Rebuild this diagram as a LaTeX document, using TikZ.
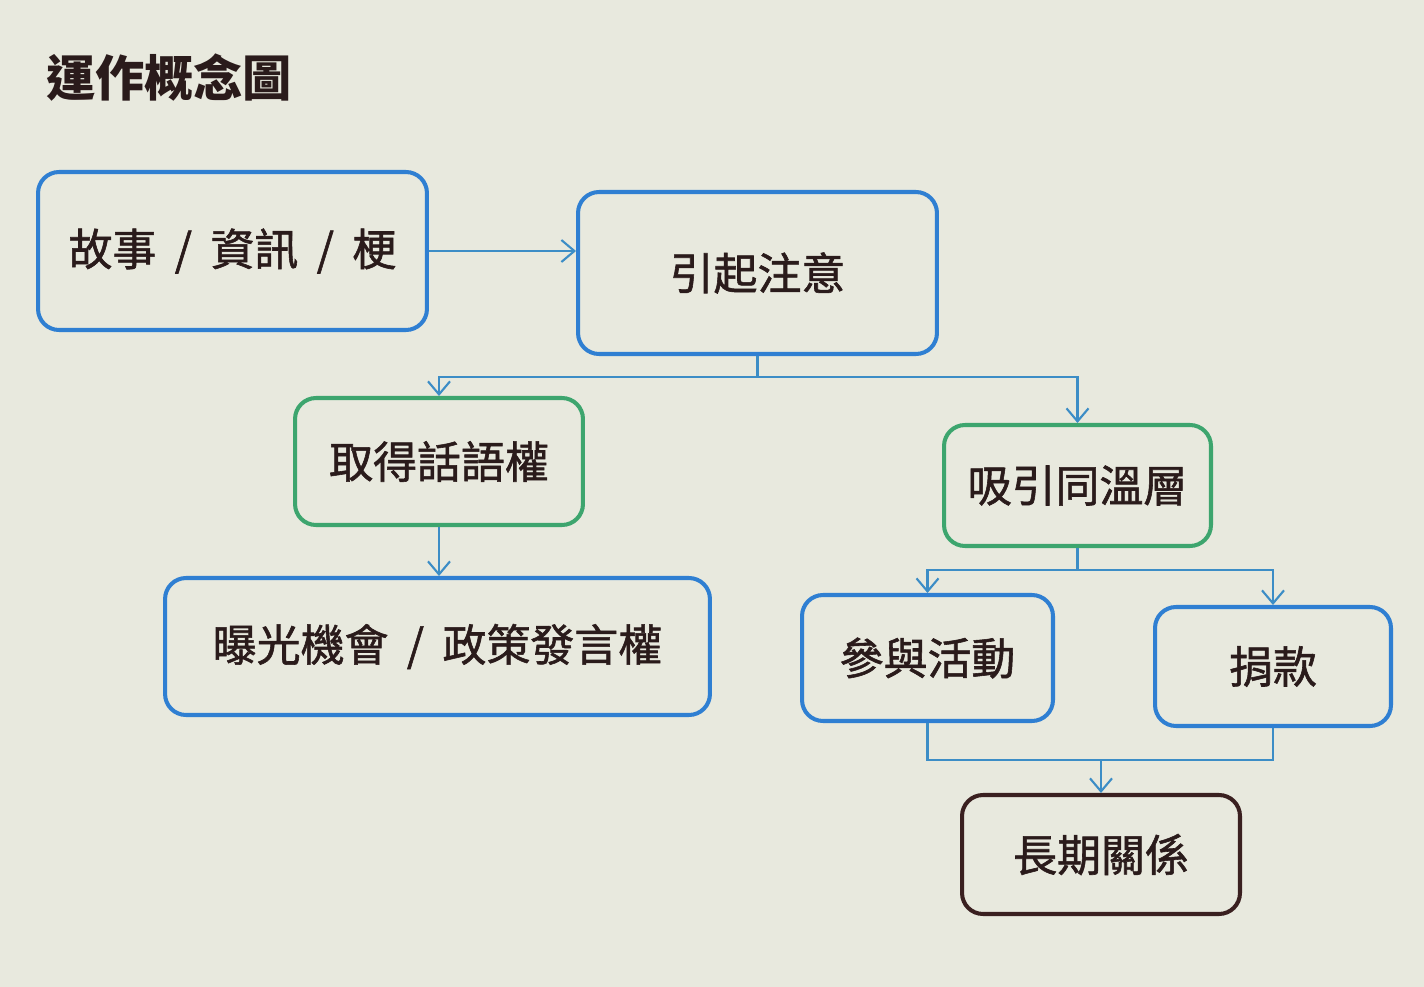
\documentclass[tikz,border=0pt]{standalone}
\usepackage{fontspec}
\newfontfamily\cjk{Noto Sans CJK TC}
\newfontfamily\cjkm[FakeBold=1.3]{Noto Sans CJK TC}
\usetikzlibrary{arrows.meta,calc}
\definecolor{bgc}{HTML}{E8E9DE}
\definecolor{boxblue}{HTML}{2F7FD2}
\definecolor{boxgreen}{HTML}{3DA56E}
\definecolor{boxdark}{HTML}{3A2020}
\definecolor{linkblue}{HTML}{3C8DC6}
\definecolor{txt}{HTML}{2A1B1B}
\newcommand{\myslash}{\hspace{0.42em}/\hspace{0.42em}}
\tikzset{
  box/.style={rounded corners=0.42cm, line width=2.3pt, fill=none, align=center,
    font=\cjkm\fontsize{25}{29}\selectfont, text=txt, inner sep=0pt},
  bluebox/.style={box, draw=boxblue},
  greenbox/.style={box, draw=boxgreen},
  darkbox/.style={box, draw=boxdark},
  link/.style={draw=linkblue, line width=1.2pt},
  arr/.style={link, -{Straight Barb[length=2.6mm,width=4.4mm,line width=1.2pt]}},
}
\begin{document}
\begin{tikzpicture}[x=0.02cm,y=-0.02cm]
\fill[bgc] (0,0) rectangle (1424,987);
\useasboundingbox (0,0) rectangle (1424,987);

\node[anchor=west, text=txt, font=\cjk\bfseries\fontsize{28}{32}\selectfont] (title) at (40,78) {運作概念圖};

\node[bluebox, minimum width=7.78cm, minimum height=3.16cm] (b1) at (232.5,251) {故事{\myslash}資訊{\myslash}梗};
\node[bluebox, minimum width=7.18cm, minimum height=3.24cm] (b2) at (757.5,273) {引起注意};
\node[greenbox, minimum width=5.76cm, minimum height=2.54cm] (b3) at (439,461.5) {取得話語權};
\node[greenbox, minimum width=5.34cm, minimum height=2.42cm] (b4) at (1077.5,485.5) {吸引同溫層};
\node[bluebox, minimum width=10.9cm, minimum height=2.74cm] (b5) at (437.5,646.5) {曝光機會{\myslash}政策發言權};
\node[bluebox, minimum width=5.02cm, minimum height=2.52cm] (b6) at (927.5,658) {參與活動};
\node[bluebox, minimum width=4.72cm, minimum height=2.38cm] (b7) at (1273,666.5) {捐款};
\node[darkbox, minimum width=5.56cm, minimum height=2.38cm] (b8) at (1101,854.5) {長期關係};

\coordinate (j1) at (757.5,377);
\coordinate (j2) at (1077.5,570);
\coordinate (j3) at (1101,760);

\draw[arr] (b1.east) -- (b1.east -| b2.west);
\draw[link] (b2.south) -- (j1);
\draw[arr] (j1) -| (b3.north);
\draw[arr] (j1) -| (b4.north);
\draw[arr] (b3.south) -- (b3.south |- b5.north);
\draw[link] (b4.south) -- (j2);
\draw[arr] (j2) -| (b6.north);
\draw[arr] (j2) -| (b7.north);
\draw[link] (b6.south) |- (j3);
\draw[link] (b7.south) |- (j3);
\draw[arr] (j3) -- (b8.north);
\end{tikzpicture}
\end{document}
